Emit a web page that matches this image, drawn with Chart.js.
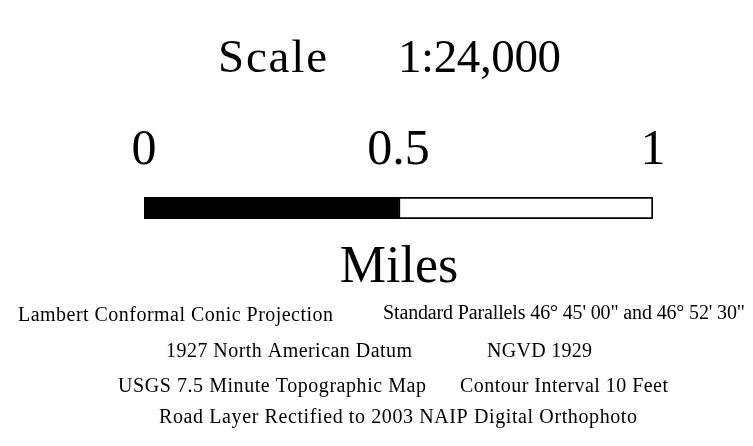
<!DOCTYPE html>
<html lang="en">
<head>
    <meta charset="UTF-8">
    <title>Scale 1:24,000</title>
    <script src="https://cdn.jsdelivr.net/npm/chart.js"></script>
    <style>
        html, body { margin: 0; padding: 0; background: #fff; }
        #scaleChart { display: block; }
    </style>
</head>
<body>
    <canvas id="scaleChart" width="753" height="446"></canvas>
    <script>
    // scale bar data (miles)
    const tickValues = [0, 0.5, 1];
    const tickLabels = ['0', '0.5', '1'];
    const segmentStart = [0, 0.5];
    const segmentEnd = [0.5, 1];
    const segmentFill = ['#000000', '#ffffff'];

    const titleParts = ['Scale', '1:24,000'];
    const unitLabel = 'Miles';
    const notes = [
        'Lambert Conformal Conic Projection',
        'Standard Parallels 46\u00b0 45\' 00" and 46\u00b0 52\' 30"',
        '1927 North American Datum',
        'NGVD 1929',
        'USGS 7.5 Minute Topographic Map',
        'Contour Interval 10 Feet',
        'Road Layer Rectified to 2003 NAIP Digital Orthophoto'
    ];

    const SERIF = '"Liberation Serif", "Times New Roman", serif';
    // where each note sits: [left, right, baseline]
    const noteBoxes = [
        [18, 333, 321], [383, 745, 319],
        [166, 412, 357], [487, 592, 357],
        [118, 426, 392], [460, 668, 392],
        [159, 637, 423]
    ];

    // draw text stretched (or squeezed) to fill a given width
    function fitText(ctx, text, left, right, y) {
        const natural = ctx.measureText(text).width;
        const extra = (right - left - natural) / Math.max(1, text.length - 1);
        if ('letterSpacing' in ctx) {
            ctx.letterSpacing = extra + 'px';
            ctx.fillText(text, left, y);
            ctx.letterSpacing = '0px';
        } else {
            let x = left;
            for (const ch of text) {
                ctx.fillText(ch, x, y);
                x += ctx.measureText(ch).width + extra;
            }
        }
    }

    const textPlugin = {
        id: 'scaleText',
        afterDraw(chart) {
            const ctx = chart.ctx;
            ctx.save();
            ctx.fillStyle = '#000';
            ctx.textBaseline = 'alphabetic';
            ctx.textAlign = 'left';
            ctx.font = '47px ' + SERIF;
            fitText(ctx, titleParts[0], 218, 327, 72);
            fitText(ctx, titleParts[1], 398, 561, 72);
            ctx.font = '52px ' + SERIF;
            ctx.textAlign = 'center';
            ctx.fillText(unitLabel, 399, 282);
            ctx.textAlign = 'left';
            ctx.font = '20px ' + SERIF;
            notes.forEach((t, i) => {
                const b = noteBoxes[i];
                fitText(ctx, t, b[0], b[1], b[2]);
            });
            ctx.restore();
        }
    };

    new Chart(document.getElementById('scaleChart'), {
        type: 'bar',
        data: {
            labels: ['bar'],
            datasets: segmentStart.map((s, i) => ({
                data: [[s, segmentEnd[i]]],
                backgroundColor: segmentFill[i],
                borderColor: '#000000',
                borderWidth: i === 0 ? 0 : 2,
                borderSkipped: false,
                grouped: false,
                barPercentage: 1,
                categoryPercentage: 1
            }))
        },
        options: {
            indexAxis: 'y',
            responsive: false,
            animation: false,
            events: [],
            layout: { padding: { top: 0, left: 144, right: 100, bottom: 227 } },
            plugins: { legend: { display: false }, tooltip: { enabled: false }, title: { display: false } },
            scales: {
                x: {
                    type: 'linear',
                    position: 'top',
                    min: 0,
                    max: 1,
                    afterBuildTicks: (scale) => { scale.ticks = tickValues.map(v => ({ value: v })); },
                    afterFit: (scale) => { scale.height = 197; },
                    ticks: {
                        autoSkip: false,
                        maxRotation: 0,
                        padding: 16,
                        color: '#000',
                        font: { family: SERIF, size: 50 },
                        callback: (v) => tickLabels[tickValues.indexOf(v)]
                    },
                    grid: { display: false, drawTicks: false },
                    border: { display: false }
                },
                y: { display: false }
            }
        },
        plugins: [textPlugin]
    });
    </script>
</body>
</html>
